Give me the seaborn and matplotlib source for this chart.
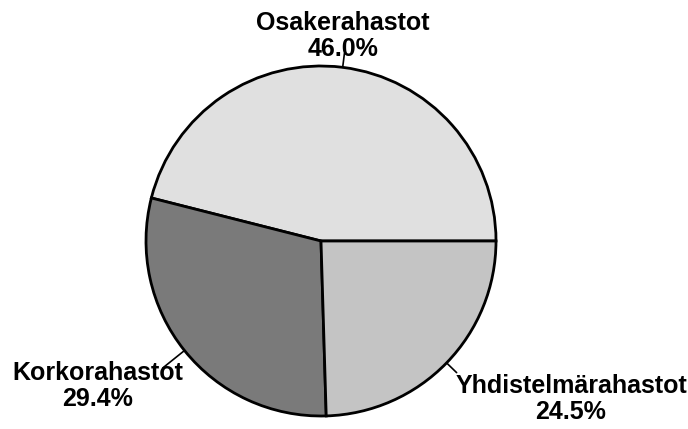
import numpy as np
import matplotlib
matplotlib.use("Agg")
import matplotlib.pyplot as plt
import seaborn as sns

sns.set_theme(style="white")
plt.rcParams['font.family'] = ['Liberation Sans', 'DejaVu Sans']

# data
funds = ["Osakerahastot", "Korkorahastot", "Yhdistelmärahastot"]
shares = [46.0, 29.4, 24.5]
fills = ["#e0e0e0", "#7a7a7a", "#c4c4c4"]

# layout (pixel coordinates of the 688x429 canvas)
W, H = 688, 429
center = (321, 188)
radius = 175
label_pos = [(343, 393), (98, 43), (571, 30)]
leader_len = [14, 28, 14]

fig = plt.figure(figsize=(6.88, 4.29), dpi=100)
ax = fig.add_axes([0, 0, 1, 1])

wedges, _ = ax.pie(shares, colors=fills, startangle=0, counterclock=True,
                   center=center, radius=radius,
                   wedgeprops=dict(edgecolor="black", linewidth=2.0))
ax.set_xlim(0, W)
ax.set_ylim(0, H)
ax.set_aspect("equal")
ax.axis("off")

for w, name, val, pos, ll in zip(wedges, funds, shares, label_pos, leader_len):
    mid = np.deg2rad((w.theta1 + w.theta2) / 2)
    x0 = center[0] + radius * np.cos(mid)
    y0 = center[1] + radius * np.sin(mid)
    x1 = center[0] + (radius + ll) * np.cos(mid)
    y1 = center[1] + (radius + ll) * np.sin(mid)
    ax.plot([x0, x1], [y0, y1], color="black", lw=1.2)
    ax.text(pos[0], pos[1], "{}\n{:.1f}%".format(name, val),
            ha="center", va="center", fontsize=18, fontweight="bold",
            color="black", linespacing=1.15)

fig.savefig("out.png", dpi=100, facecolor="white")
